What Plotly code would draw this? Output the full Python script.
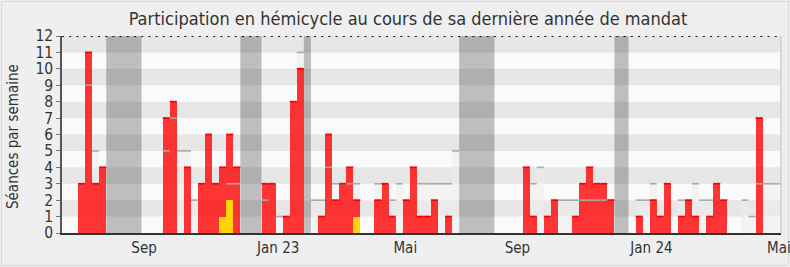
import plotly.graph_objects as go

# ---- data (week index 0..99) ----
weeks = list(range(100))
presence = [3, 11, 3, 4, 0, 0, 0, 0, 0, 0,
            0, 0, 7, 8, 0, 4, 0, 3, 6, 3,
            4, 6, 4, 0, 0, 0, 3, 3, 0, 1,
            8, 10, 0, 0, 1, 6, 2, 3, 4, 2,
            0, 0, 2, 3, 1, 0, 2, 4, 1, 1,
            2, 0, 1, 0, 0, 0, 0, 0, 0, 0,
            0, 0, 0, 4, 1, 0, 1, 2, 0, 0,
            1, 3, 4, 3, 3, 2, 0, 0, 0, 1,
            0, 2, 1, 3, 0, 1, 2, 1, 0, 1,
            3, 2, 0, 0, 0, 0, 7, 0, 0, 0]
questions = [0] * 100
questions[20] = 1
questions[21] = 2
questions[39] = 1
median = [0, 9, 5, 0, 0, 0, 0, 0, 0, 0,
          0, 0, 5, 7, 5, 5, 2, 0, 0, 0,
          0, 3, 3, 0, 0, 0, 2, 0, 1, 0,
          0, 11, 0, 2, 2, 4, 3, 3, 3, 3,
          0, 0, 3, 0, 2, 3, 0, 0, 3, 3,
          3, 3, 3, 5, 0, 0, 0, 0, 0, 0,
          0, 0, 0, 0, 3, 4, 0, 0, 2, 2,
          2, 2, 2, 2, 2, 2, 0, 0, 0, 2,
          2, 3, 0, 0, 0, 2, 0, 3, 2, 2,
          0, 0, 0, 0, 2, 1, 3, 3, 3, 3]
vacations = [(4, 9), (23, 26), (32, 33), (54, 59), (76, 78)]
tick_weeks = [9.36, 28.36, 46.37, 62.25, 81.25, 99.3]
tick_labels = ["Sep", "Jan 23", "Mai", "Sep", "Jan 24", "Mai"]

FONT = "DejaVu Sans Condensed, DejaVu Sans, sans-serif"

L, R, T, B = 62, 9, 36, 34
W, H = 790, 267
PW, PH = W - L - R, H - T - B

centers = [k + 0.5 for k in weeks]


def tops(vals):
    xs, ys = [], []
    for k, v in zip(weeks, vals):
        if v > 0:
            xs += [k, k + 1, None]
            ys += [v, v, None]
    return xs, ys


fig = go.Figure()

fig.add_trace(go.Bar(x=centers, y=median, width=1,
                     marker=dict(color="rgba(236,236,236,0.55)", line=dict(width=0)),
                     hoverinfo="skip"))
mx, my = tops(median)
fig.add_trace(go.Scatter(x=mx, y=my, mode="lines",
                         line=dict(color="#a9a9a9", width=1.6), hoverinfo="skip"))
fig.add_trace(go.Bar(x=centers, y=presence, width=1,
                     marker=dict(color="rgba(255,0,0,0.79)", line=dict(width=0))))
px_, py_ = tops(presence)
fig.add_trace(go.Scatter(x=px_, y=py_, mode="lines",
                         line=dict(color="#ff0000", width=1.8), hoverinfo="skip"))
fig.add_trace(go.Bar(x=centers, y=questions, width=1,
                     marker=dict(color="#ffd20a", line=dict(width=0))))

shapes = []
for lo in range(1, 12, 2):
    shapes.append(dict(type="rect", xref="paper", yref="y", x0=0, x1=1, y0=lo, y1=lo + 1,
                       fillcolor="#e6e6e6", line=dict(width=0), layer="below"))
for a, b in vacations:
    shapes.append(dict(type="rect", xref="x", yref="paper", x0=a, x1=b, y0=0, y1=1,
                       fillcolor="rgba(0,0,0,0.24)", line=dict(width=0), layer="below"))
# dotted line at top
shapes.append(dict(type="line", xref="paper", yref="y", x0=0, x1=1, y0=12, y1=12,
                   line=dict(color="#111111", width=1.8, dash="2px,5.2px"), layer="above"))
# right border of plot
shapes.append(dict(type="line", xref="paper", yref="paper", x0=1, x1=1, y0=0, y1=1,
                   line=dict(color="#cfcfcf", width=1.5), layer="above"))
# outer frame
shapes.append(dict(type="rect", xref="paper", yref="paper",
                   x0=(-L + 1.5) / PW, x1=1 + (R - 1.5) / PW,
                   y0=(-B + 1.5) / PH, y1=1 + (T - 1.5) / PH,
                   line=dict(color="#dadada", width=1), fillcolor="rgba(0,0,0,0)", layer="below"))

fig.update_layout(
    width=W, height=H,
    margin=dict(l=L, r=R, t=T, b=B, pad=0, autoexpand=False),
    paper_bgcolor="#efefef", plot_bgcolor="#fafafa",
    barmode="overlay", bargap=0, showlegend=False,
    shapes=shapes,
    font=dict(family=FONT, color="#333333", size=15),
    title=dict(text="Participation en hémicycle au cours de sa dernière année de mandat",
               x=408 / W, xref="container", xanchor="center",
               y=1 - 19 / H, yref="container", yanchor="middle",
               font=dict(family=FONT, size=18, color="#333333")),
    xaxis=dict(range=[-2.27, 99.6], tickmode="array", tickvals=tick_weeks, ticktext=tick_labels,
               automargin=False, ticklabeloverflow="allow",
               showgrid=False, zeroline=False, showline=True, linecolor="#333333", linewidth=2,
               ticks="", tickfont=dict(size=15, color="#333333"), fixedrange=True),
    yaxis=dict(range=[0, 12], dtick=1, tick0=0, showgrid=False, zeroline=False,
               automargin=False,
               showline=True, linecolor="#555555", linewidth=1.5,
               ticks="outside", ticklen=4, tickcolor="#777777", tickwidth=1,
               tickfont=dict(size=15.5, color="#333333"), fixedrange=True),
    annotations=[dict(text="Séances par semaine", textangle=-90, showarrow=False,
                      xref="paper", yref="paper", x=(13 - L) / PW, y=(233 - 136) / PH,
                      xanchor="center", yanchor="middle",
                      font=dict(family=FONT, size=15, color="#333333"))],
)

fig.write_html("out.html")
